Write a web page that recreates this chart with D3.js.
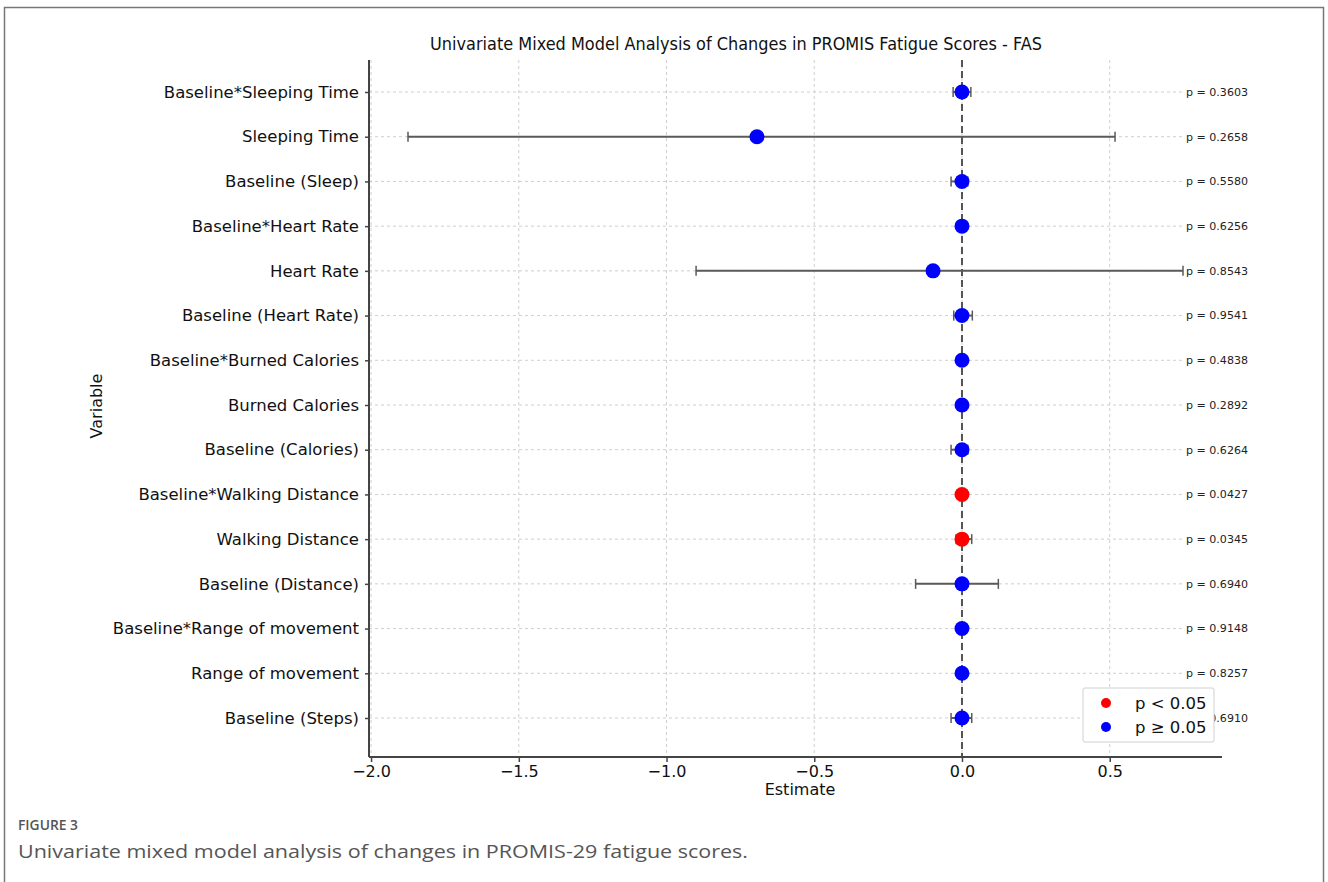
<!DOCTYPE html>
<html>
<head>
<meta charset="utf-8">
<script src="https://cdn.jsdelivr.net/npm/d3@7"></script>
<style>
  html, body { margin: 0; padding: 0; background: #fff; }
  svg { display: block; }
</style>
</head>
<body>
<svg id="fig" width="1328" height="882"></svg>
<script>
// Model terms, top to bottom
const variables = [
  "Baseline*Sleeping Time", "Sleeping Time", "Baseline (Sleep)",
  "Baseline*Heart Rate", "Heart Rate", "Baseline (Heart Rate)",
  "Baseline*Burned Calories", "Burned Calories", "Baseline (Calories)",
  "Baseline*Walking Distance", "Walking Distance", "Baseline (Distance)",
  "Baseline*Range of movement", "Range of movement", "Baseline (Steps)"
];
const estimates = [0.0, -0.694, 0.0, 0.0, -0.098, 0.0, 0.0, 0.0, 0.0, 0.0, 0.0, 0.0, 0.0, 0.0, 0.0];
const ciLower  = [-0.03, -1.875, -0.037, -0.01, -0.90, -0.028, -0.01, -0.01, -0.037, -0.005, -0.02, -0.157, -0.01, -0.01, -0.037];
const ciUpper  = [0.03, 0.518, 0.02, 0.01, 0.748, 0.035, 0.01, 0.01, 0.02, 0.005, 0.033, 0.123, 0.01, 0.01, 0.033];
const pValues  = [0.3603, 0.2658, 0.5580, 0.6256, 0.8543, 0.9541, 0.4838, 0.2892, 0.6264, 0.0427, 0.0345, 0.6940, 0.9148, 0.8257, 0.6910];
const xTicks = [-2.0, -1.5, -1.0, -0.5, 0.0, 0.5];
const legendItems = [
  { label: "p < 0.05", color: "#ff0000" },
  { label: "p \u2265 0.05", color: "#0000ff" }
];

const rows = variables.map((v, i) => ({
  name: v, est: estimates[i], lo: ciLower[i], hi: ciUpper[i], p: pValues[i]
}));

const svg = d3.select("#fig");
const font = "'DejaVu Sans', 'Noto Sans', sans-serif";

// Figure frame
svg.append("path")
  .attr("d", "M4.5,882 L4.5,7.5 L1323.5,7.5 L1323.5,882")
  .attr("fill", "none").attr("stroke", "#777").attr("stroke-width", 1.5);

const axL = 369, axR = 1222, axT = 60, axB = 757;
const x = d3.scaleLinear().domain([-2.007, 0.88]).range([axL, axR]);
const y = d3.scalePoint().domain(variables).range([92, 718]);

const g = svg.append("g");

// Grid
g.append("g").selectAll("line").data(xTicks).join("line")
  .attr("x1", d => x(d)).attr("x2", d => x(d))
  .attr("y1", axT).attr("y2", axB)
  .attr("stroke", "#cfcfcf").attr("stroke-width", 1).attr("stroke-dasharray", "3,3");
g.append("g").selectAll("line").data(variables).join("line")
  .attr("x1", axL).attr("x2", axR)
  .attr("y1", d => y(d)).attr("y2", d => y(d))
  .attr("stroke", "#cfcfcf").attr("stroke-width", 1).attr("stroke-dasharray", "3,3");

// Reference line at zero
g.append("line")
  .attr("x1", x(0)).attr("x2", x(0)).attr("y1", axT).attr("y2", axB)
  .attr("stroke", "#555").attr("stroke-width", 2).attr("stroke-dasharray", "7,4");

// Error bars
const eb = g.append("g").selectAll("g").data(rows).join("g")
  .attr("stroke", "#5a5a5a").attr("stroke-width", 2);
eb.append("line")
  .attr("x1", d => x(d.lo)).attr("x2", d => x(d.hi))
  .attr("y1", d => y(d.name)).attr("y2", d => y(d.name));
eb.append("line")
  .attr("x1", d => x(d.lo)).attr("x2", d => x(d.lo))
  .attr("y1", d => y(d.name) - 5).attr("y2", d => y(d.name) + 5)
  .attr("stroke-width", 1.5);
eb.append("line")
  .attr("x1", d => x(d.hi)).attr("x2", d => x(d.hi))
  .attr("y1", d => y(d.name) - 5).attr("y2", d => y(d.name) + 5)
  .attr("stroke-width", 1.5);

// Point estimates
g.append("g").selectAll("circle").data(rows).join("circle")
  .attr("cx", d => x(d.est)).attr("cy", d => y(d.name)).attr("r", 7.5)
  .attr("fill", d => d.p < 0.05 ? "#ff0000" : "#0000ff");

// p-value annotations with white boxes
const pl = g.append("g").selectAll("g").data(rows).join("g")
  .attr("transform", d => `translate(1186,${y(d.name)})`);
pl.append("rect").attr("x", -2).attr("y", -7).attr("width", 68).attr("height", 14).attr("fill", "#fff");
pl.append("text")
  .attr("x", 0).attr("y", 0).attr("dy", "0.35em")
  .attr("font-family", font).attr("font-size", 11).attr("fill", "#222")
  .attr("textLength", 62).attr("lengthAdjust", "spacingAndGlyphs")
  .text(d => `p = ${d.p.toFixed(4)}`);

// Axes
const xAxis = d3.axisBottom(x).tickValues(xTicks).tickSize(5).tickPadding(4)
  .tickFormat(d => d3.format(".1f")(d).replace("-", "\u2212"));
const xg = svg.append("g").attr("transform", `translate(0,${axB})`).call(xAxis);
xg.select(".domain").attr("d", `M${axL},0H${axR}`).attr("stroke", "#444").attr("stroke-width", 2);
xg.selectAll(".tick line").attr("stroke", "#444").attr("stroke-width", 1.5);
xg.selectAll(".tick text").attr("font-family", font).attr("font-size", 16).attr("fill", "#111");

const yAxis = d3.axisLeft(y).tickSize(4).tickPadding(6);
const yg = svg.append("g").attr("transform", `translate(${axL},0)`).call(yAxis);
yg.select(".domain").attr("d", `M0,${axT}V${axB}`).attr("stroke", "#444").attr("stroke-width", 2);
yg.selectAll(".tick line").attr("stroke", "#444").attr("stroke-width", 1.5);
yg.selectAll(".tick text").attr("font-family", font).attr("font-size", 16.5).attr("fill", "#111");

// Titles
svg.append("text").attr("x", 736).attr("y", 50).attr("text-anchor", "middle")
  .attr("font-family", font).attr("font-size", 17).attr("fill", "#111")
  .attr("textLength", 612).attr("lengthAdjust", "spacingAndGlyphs")
  .text("Univariate Mixed Model Analysis of Changes in PROMIS Fatigue Scores - FAS");
svg.append("text").attr("x", 800).attr("y", 795).attr("text-anchor", "middle")
  .attr("font-family", font).attr("font-size", 16).attr("fill", "#111")
  .text("Estimate");
svg.append("text").attr("transform", "translate(102,406) rotate(-90)").attr("text-anchor", "middle")
  .attr("font-family", font).attr("font-size", 16).attr("fill", "#111")
  .text("Variable");

// Legend
const lg = svg.append("g").attr("transform", "translate(1083,688)");
lg.append("rect").attr("width", 131).attr("height", 54).attr("rx", 2)
  .attr("fill", "#fff").attr("stroke", "#d0d0d0").attr("stroke-width", 1);
lg.selectAll("g").data(legendItems).join("g")
  .attr("transform", (d, i) => `translate(0,${15 + i * 24})`)
  .call(s => {
    s.append("circle").attr("cx", 23).attr("cy", 0).attr("r", 5).attr("fill", d => d.color);
    s.append("text").attr("x", 52).attr("y", 0).attr("dy", "0.35em")
      .attr("font-family", font).attr("font-size", 16.5).attr("fill", "#111")
      .text(d => d.label);
  });

// Caption
svg.append("text").attr("x", 18).attr("y", 830)
  .attr("font-family", "'Open Sans', sans-serif").attr("font-size", 13.5).attr("font-weight", 600)
  .attr("fill", "#555").attr("textLength", 60).attr("lengthAdjust", "spacingAndGlyphs")
  .text("FIGURE 3");
svg.append("text").attr("x", 18).attr("y", 858)
  .attr("font-family", "'Open Sans', sans-serif").attr("font-size", 19)
  .attr("fill", "#555").attr("textLength", 730).attr("lengthAdjust", "spacingAndGlyphs")
  .text("Univariate mixed model analysis of changes in PROMIS-29 fatigue scores.");
</script>
</body>
</html>
